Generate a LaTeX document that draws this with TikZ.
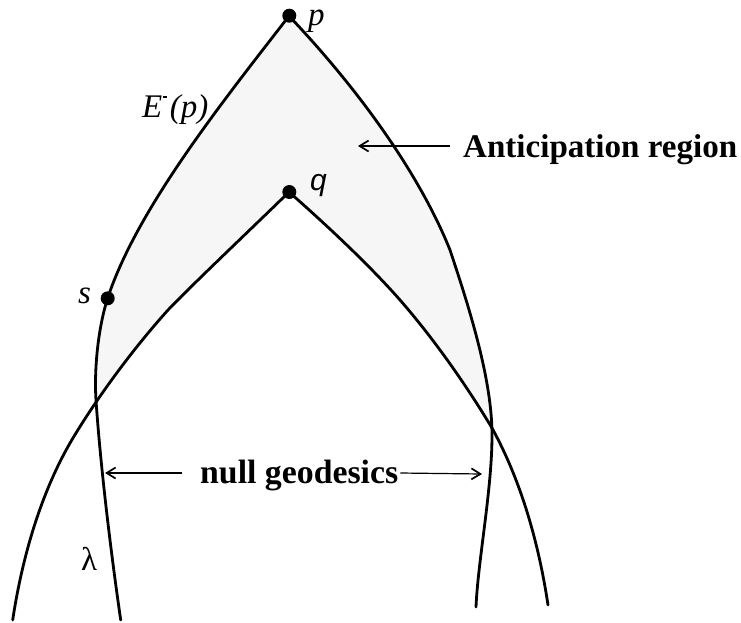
\documentclass[tikz,border=0pt]{standalone}
\usepackage{fontspec}
\setmainfont{Liberation Serif}
\newfontfamily\labsans{Liberation Sans}
\usetikzlibrary{arrows.meta}
\definecolor{regiongray}{RGB}{246,246,246}
\begin{document}
\begin{tikzpicture}[x=1pt,y=-1pt,
  curve/.style={line width=2.8pt, line join=round, line cap=round},
  dotpt/.style={circle, fill=black, inner sep=0pt, minimum size=14pt},
  arr/.style={-{Straight Barb[length=9pt,width=11pt,line width=1.7pt]}, line width=1.2pt},
  itl/.style={inner sep=0pt, font=\fontsize{33}{40}\selectfont\itshape},
  boldlab/.style={inner sep=0pt, font=\fontsize{33}{40}\selectfont\bfseries}
]
\useasboundingbox (0,0) rectangle (741,622);
% shaded region
\fill[regiongray] (120.7,900) -- (120.7,620) .. controls (112,560) and (100.7,470) .. (96,400) .. controls (94,370) and (98,328) .. (107.7,298) .. controls (137.4,208) and (224,100) .. (289,16) .. controls (365,96) and (422,180) .. (450,250) .. controls (470,310) and (492,380) .. (492,435) .. controls (492,490) and (478,560) .. (476,607) -- (476,900) -- cycle;
\fill[white] (12.7,900) -- (12.7,620) .. controls (20.2,570) and (37,498) .. (73,438) .. controls (97,398) and (132,350) .. (168,310) .. controls (195,282) and (250,230) .. (289,192) .. controls (330,228) and (372,268) .. (400,300) .. controls (435,340) and (468,388) .. (492,428) .. controls (525,488) and (540.5,555) .. (548,605) -- (548,900) -- cycle;
% outer boundary E^-(p)
\draw[curve] (120.7,620) .. controls (112,560) and (100.7,470) .. (96,400) .. controls (94,370) and (98,328) .. (107.7,298) .. controls (137.4,208) and (224,100) .. (289,16) .. controls (365,96) and (422,180) .. (450,250) .. controls (470,310) and (492,380) .. (492,435) .. controls (492,490) and (478,560) .. (476,607);
% inner boundary
\draw[curve] (12.7,620) .. controls (20.2,570) and (37,498) .. (73,438) .. controls (97,398) and (132,350) .. (168,310) .. controls (195,282) and (250,230) .. (289,192) .. controls (330,228) and (372,268) .. (400,300) .. controls (435,340) and (468,388) .. (492,428) .. controls (525,488) and (540.5,555) .. (548,605);
% points
\node[dotpt] (p) at (289.3,15.7) {};
\node[dotpt] (q) at (289.3,192) {};
\node[dotpt] (s) at (107.7,298.3) {};
% labels
\node[itl, anchor=base west, text height=15pt] (plab) at (308,25) {p};
\node[itl, anchor=base west] (slab) at (78,303) {s};
\node[itl, anchor=base west] (elab) at (142,117) {E\kern0.5pt\raisebox{19.5pt}{\rule{4.5pt}{1.8pt}}\kern2.5pt(p)};
\node[inner sep=0pt, anchor=base west, font=\fontsize{30}{36}\selectfont\labsans\itshape] (qlab) at (310,190) {q};
\node[inner sep=0pt, anchor=base west, font=\fontsize{33}{38}\selectfont] (lamlab) at (81,570) {λ};
\node[boldlab, anchor=base west] (antic) at (463,157) {\resizebox{274pt}{!}{Anticipation region}};
\node[boldlab, anchor=base west] (nullg) at (200,483) {\resizebox{198pt}{!}{null geodesics}};
% arrows
\coordinate (atip) at (358,146);
\coordinate (ltip) at (105,473);
\coordinate (rtip) at (482,474);
\draw[arr] ([shift={(-13,-11)}]antic.base west) -- (atip);
\draw[arr] ([shift={(-18,-10)}]nullg.base west) -- (ltip);
\draw[arr] ([shift={(2,-10)}]nullg.base east) -- (rtip);
\end{tikzpicture}
\end{document}
